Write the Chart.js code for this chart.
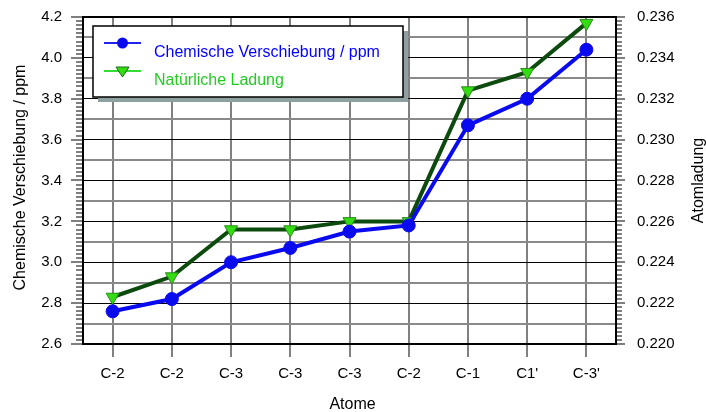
<!DOCTYPE html>
<html>
<head>
<meta charset="utf-8">
<script src="https://cdn.jsdelivr.net/npm/chart.js@4.4.1/dist/chart.umd.min.js"></script>
<style>
  html, body { margin: 0; padding: 0; background: #ffffff; }
  #wrap { width: 706px; height: 412px; }
</style>
</head>
<body>
<div id="wrap"><canvas id="chart" width="706" height="412"></canvas></div>
<script>
// Atome auf der x-Achse
const atoms = ['C-2', 'C-2', 'C-3', 'C-3', 'C-3', 'C-2', 'C-1', "C1'", "C-3'"];
// Chemische Verschiebung (linke Achse, ppm)
const shiftPpm = [2.76, 2.82, 3.00, 3.07, 3.15, 3.18, 3.67, 3.80, 4.04];
// Natürliche Ladung (rechte Achse)
const charge = [0.2223, 0.2233, 0.2256, 0.2256, 0.2260, 0.2260, 0.2324, 0.2333, 0.2357];

// Gitterlinien links (alle 0.1) und beschriftete Werte
const ppmGrid = [2.6, 2.7, 2.8, 2.9, 3.0, 3.1, 3.2, 3.3, 3.4, 3.5, 3.6, 3.7, 3.8, 3.9, 4.0, 4.1, 4.2];
const ppmLabels = ['2.6', '2.8', '3.0', '3.2', '3.4', '3.6', '3.8', '4.0', '4.2'];
const chargeLabels = ['0.220', '0.222', '0.224', '0.226', '0.228', '0.230', '0.232', '0.234', '0.236'];

const seriesNames = ['Chemische Verschiebung / ppm', 'Natürliche Ladung'];
const titleX = 'Atome';
const titleY = 'Chemische Verschiebung / ppm';
const titleY1 = 'Atomladung';

const FONT = "'Liberation Sans', Arial, sans-serif";
Chart.defaults.font.family = FONT;
Chart.defaults.color = '#000000';

const BLUE = '#0a0aee';
const DARK_GREEN = '#0d4a0d';
const LIGHT_GREEN = '#33dd11';

// Rahmen, Haupt- und Nebenstriche an beiden y-Achsen, Achsentitel
const frameTicks = {
    id: 'frameTicks',
    beforeDatasetsDraw(chart) {
        const ctx = chart.ctx;
        const a = chart.chartArea;
        ctx.save();
        ctx.strokeStyle = '#000000';
        ctx.lineWidth = 2;
        ctx.strokeRect(a.left, a.top, a.right - a.left, a.bottom - a.top);
        ctx.restore();
    },
    afterDraw(chart) {
        const ctx = chart.ctx;
        const a = chart.chartArea;
        const y = chart.scales.y;
        const y1 = chart.scales.y1;
        ctx.save();
        ctx.fillStyle = '#000000';
        for (let i = 0; i <= 80; i++) {
            const py = Math.round(y.getPixelForValue(2.6 + i * 0.02));
            const len = i % 10 === 0 ? 11 : 6;
            ctx.fillRect(a.left - 1 - len, py - 0.5, len, 1);
        }
        for (let i = 0; i <= 80; i++) {
            const py = Math.round(y1.getPixelForValue(0.220 + i * 0.0002));
            const len = i % 10 === 0 ? 8 : 5;
            ctx.fillRect(a.right + 1, py - 0.5, len, 1);
        }

        ctx.font = '16px ' + FONT;
        ctx.textAlign = 'center';
        ctx.textBaseline = 'middle';
        const midY = (a.top + a.bottom) / 2;

        ctx.save();
        ctx.translate(21, midY - 3);
        ctx.rotate(-Math.PI / 2);
        ctx.fillText(titleY, 0, 0);
        ctx.restore();

        ctx.save();
        ctx.translate(699, midY);
        ctx.rotate(-Math.PI / 2);
        ctx.fillText(titleY1, 0, 0);
        ctx.restore();

        ctx.textBaseline = 'alphabetic';
        ctx.fillText(titleX, (a.left + a.right) / 2 + 3, 409);
        ctx.restore();
    }
};

// Legende im Diagrammfeld mit Schatten
const boxLegend = {
    id: 'boxLegend',
    afterDraw(chart) {
        const ctx = chart.ctx;
        const x = 93, yTop = 26, w = 310, h = 71;
        ctx.save();
        ctx.fillStyle = '#8ea0a0';
        ctx.fillRect(x + 5, yTop + 5, w, h);
        ctx.fillStyle = '#ffffff';
        ctx.fillRect(x, yTop, w, h);
        ctx.strokeStyle = '#000000';
        ctx.lineWidth = 1.5;
        ctx.strokeRect(x, yTop, w, h);

        const rows = [
            { my: 43, base: 57, line: '#2222ee', text: '#0000ff', style: 'circle' },
            { my: 71, base: 85, line: '#33dd33', text: '#22cc22', style: 'triangle' }
        ];
        rows.forEach((r, i) => {
            ctx.strokeStyle = r.line;
            ctx.lineWidth = 2;
            ctx.beginPath();
            ctx.moveTo(104, r.my);
            ctx.lineTo(141, r.my);
            ctx.stroke();
            if (r.style === 'circle') {
                ctx.fillStyle = BLUE;
                ctx.beginPath();
                ctx.arc(122.5, r.my, 5.5, 0, Math.PI * 2);
                ctx.fill();
            } else {
                ctx.fillStyle = LIGHT_GREEN;
                ctx.strokeStyle = '#1f6a1a';
                ctx.lineWidth = 1;
                ctx.beginPath();
                ctx.moveTo(116, r.my - 4);
                ctx.lineTo(129, r.my - 4);
                ctx.lineTo(122.5, r.my + 6);
                ctx.closePath();
                ctx.fill();
                ctx.stroke();
            }
            ctx.fillStyle = r.text;
            ctx.font = '16px ' + FONT;
            ctx.textAlign = 'left';
            ctx.textBaseline = 'alphabetic';
            ctx.fillText(seriesNames[i], 154, r.base);
        });
        ctx.restore();
    }
};

function isEvenTenth(v) {
    return Math.round(v * 10) % 2 === 0;
}

// feste Achsenbreiten, ohne zusätzlichen Randabstand durch die Beschriftung
function fixVertical(width) {
    return scale => {
        scale.width = width;
        scale.paddingTop = 0;
        scale.paddingBottom = 0;
    };
}

const chart = new Chart(document.getElementById('chart'), {
    type: 'line',
    data: {
        labels: atoms,
        datasets: [{
            label: seriesNames[0],
            data: shiftPpm,
            yAxisID: 'y',
            borderColor: BLUE,
            backgroundColor: BLUE,
            borderWidth: 4,
            pointStyle: 'circle',
            pointRadius: 6.5,
            pointBackgroundColor: BLUE,
            pointBorderColor: BLUE,
            pointBorderWidth: 1,
            tension: 0,
            clip: false
        }, {
            label: seriesNames[1],
            data: charge,
            yAxisID: 'y1',
            borderColor: DARK_GREEN,
            backgroundColor: LIGHT_GREEN,
            borderWidth: 4,
            pointStyle: 'triangle',
            rotation: 180,
            pointRadius: 7.5,
            pointBackgroundColor: LIGHT_GREEN,
            pointBorderColor: '#2a8a1a',
            pointBorderWidth: 1,
            tension: 0,
            clip: false
        }]
    },
    options: {
        responsive: false,
        animation: false,
        layout: { padding: { top: 17, left: 0, right: 0, bottom: 0 } },
        plugins: {
            legend: { display: false },
            tooltip: { enabled: false }
        },
        scales: {
            x: {
                type: 'category',
                offset: true,
                afterFit(scale) {
                    scale.height = 68;
                    scale.paddingLeft = 0;
                    scale.paddingRight = 0;
                },
                grid: {
                    offset: false,
                    color: '#808080',
                    lineWidth: 2,
                    drawTicks: true,
                    tickLength: 13,
                    tickColor: '#808080'
                },
                border: { display: true, color: '#000000', width: 2 },
                ticks: {
                    padding: 8,
                    color: '#000000',
                    font: { size: 15 },
                    maxRotation: 0,
                    autoSkip: false
                }
            },
            y: {
                type: 'linear',
                position: 'left',
                min: 2.6,
                max: 4.2,
                afterFit: fixVertical(83),
                afterBuildTicks(scale) {
                    scale.ticks = ppmGrid.map(v => ({ value: v }));
                },
                grid: {
                    drawTicks: false,
                    color: ctx => isEvenTenth(ctx.tick.value) ? '#000000' : '#8a8a8a',
                    lineWidth: ctx => isEvenTenth(ctx.tick.value) ? 1 : 2
                },
                border: { display: true, color: '#000000', width: 2 },
                ticks: {
                    autoSkip: false,
                    padding: 21,
                    color: '#000000',
                    font: { size: 15 },
                    callback: v => isEvenTenth(v) ? ppmLabels[Math.round((v - 2.6) * 5)] : ''
                }
            },
            y1: {
                type: 'linear',
                position: 'right',
                min: 0.220,
                max: 0.236,
                afterFit: fixVertical(90),
                grid: { drawOnChartArea: false, drawTicks: false },
                border: { display: true, color: '#000000', width: 2 },
                ticks: {
                    stepSize: 0.002,
                    padding: 21,
                    color: '#000000',
                    font: { size: 15 },
                    callback: v => chargeLabels[Math.round((v - 0.220) * 500)]
                }
            }
        }
    },
    plugins: [frameTicks, boxLegend]
});
</script>
</body>
</html>
